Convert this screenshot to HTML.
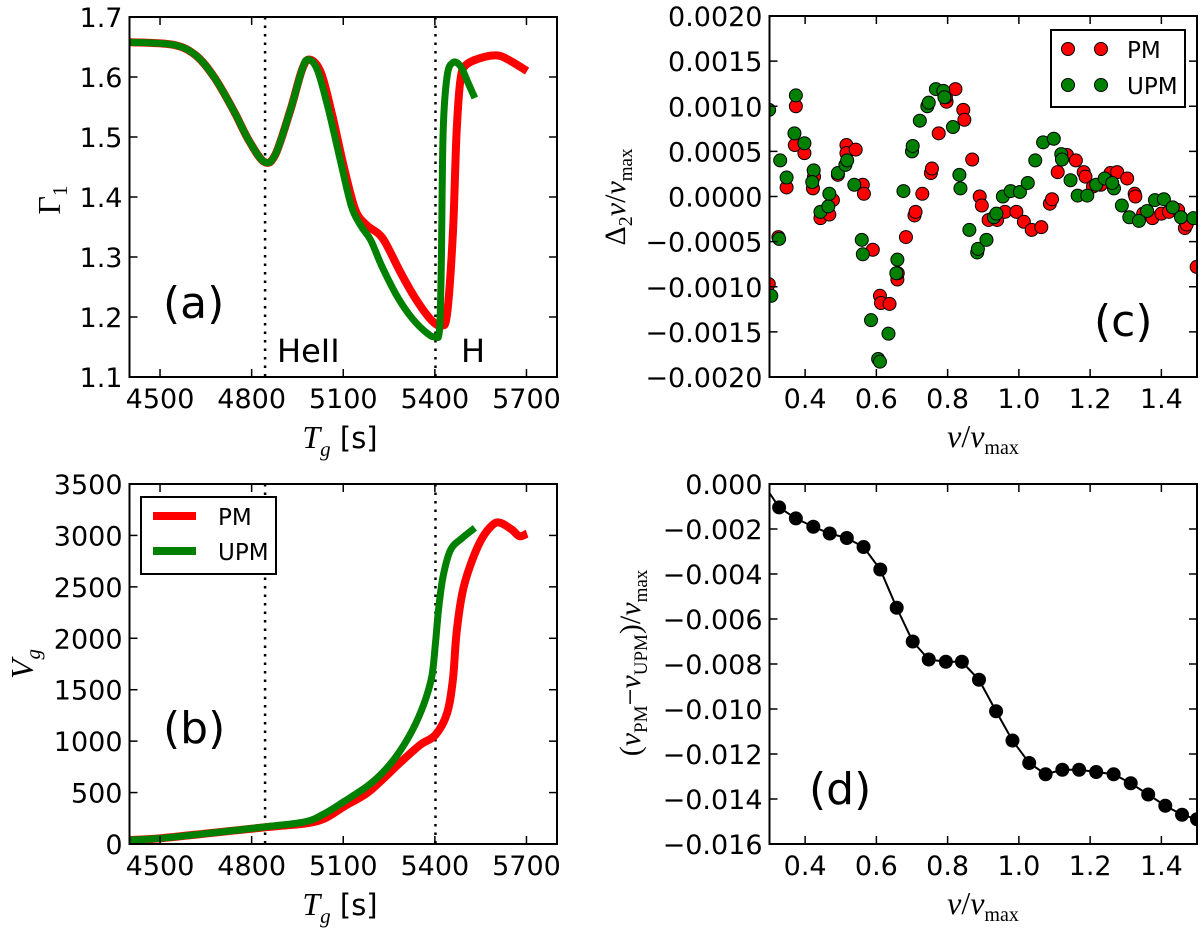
<!DOCTYPE html>
<html><head><meta charset="utf-8">
<style>
html,body{margin:0;padding:0;background:#fff;}
svg{display:block;}
text{font-family:"DejaVu Sans","Liberation Sans",sans-serif;}
.serif{font-family:"Liberation Serif","DejaVu Serif",serif;}
</style></head>
<body>
<svg id="fig" xmlns="http://www.w3.org/2000/svg" width="1200" height="930" viewBox="0 0 1200 930">
<rect x="0" y="0" width="1200" height="930" fill="#fff"/>
</svg>
<script>
// ---------- DATA ----------
// Panel (a): Gamma_1 vs T_g
const aPmT   = [4402,4540,4615,4677,4740,4790,4840,4877,4927,4965,4990,5027,5065,5102,5140,5177,5215,5240,5290,5340,5390,5421,5440,5459,5471,5484,5502,5552,5602,5640,5702];
const aPmG   = [1.658,1.654,1.637,1.600,1.545,1.495,1.459,1.470,1.545,1.612,1.629,1.607,1.534,1.450,1.378,1.353,1.339,1.322,1.272,1.228,1.194,1.186,1.205,1.339,1.506,1.596,1.620,1.632,1.636,1.629,1.610];
const aUpmT  = [4402,4540,4615,4677,4740,4790,4840,4877,4927,4965,4984,5015,5052,5090,5127,5159,5190,5227,5277,5327,5377,5402,5415,5421,5427,5440,5459,5484,5509,5531];
const aUpmG  = [1.658,1.654,1.637,1.600,1.545,1.495,1.459,1.470,1.545,1.612,1.629,1.612,1.545,1.462,1.384,1.351,1.328,1.284,1.234,1.197,1.172,1.167,1.178,1.284,1.506,1.601,1.624,1.618,1.590,1.565];
// Panel (b): V_g vs T_g
const bPmT   = [4402,4500,4677,4852,4977,5040,5102,5177,5227,5290,5352,5402,5440,5459,5471,5490,5515,5552,5590,5615,5652,5677,5702];
const bPmV   = [39,55,110,165,200,250,363,493,623,801,964,1061,1272,1597,2051,2440,2700,2959,3105,3122,3057,2992,3018];
const bUpmT  = [4402,4500,4677,4852,4977,5040,5102,5177,5227,5277,5327,5365,5390,5402,5412,5427,5452,5490,5531];
const bUpmV  = [39,55,110,169,217,298,412,558,688,866,1110,1369,1629,1953,2278,2602,2862,2976,3073];
const vLines = [4844,5402];
const tgTicks = [4500,4800,5100,5400,5700];
const g1Ticks = [1.1,1.2,1.3,1.4,1.5,1.6,1.7];
const vgTicks = [0,500,1000,1500,2000,2500,3000,3500];
// Panel (c): second differences
const cPmX = [0.298,0.325,0.348,0.374,0.371,0.398,0.422,0.425,0.443,0.468,0.478,0.492,0.516,0.516,0.542,0.562,0.565,0.590,0.610,0.613,0.637,0.659,0.660,0.683,0.707,0.710,0.729,0.753,0.756,0.775,0.797,0.795,0.822,0.844,0.847,0.869,0.890,0.896,0.915,0.939,0.961,0.993,1.014,1.036,1.063,1.087,1.093,1.109,1.135,1.160,1.182,1.187,1.208,1.230,1.257,1.276,1.304,1.325,1.327,1.349,1.375,1.400,1.421,1.447,1.466,1.471,1.499];
const cPmY = [-0.00097,-0.00045,0.0001,0.0010,0.00057,0.00048,0.00009,0.00022,-0.00024,-0.0002,-0.00004,0.00024,0.00057,0.00048,0.00052,0.00013,0.00003,-0.00059,-0.0011,-0.00118,-0.00119,-0.00092,-0.00085,-0.00045,-0.00021,-0.00017,0.00003,0.00026,0.00031,0.0007,0.00105,0.0011,0.00119,0.00096,0.00085,0.00041,0.0,-0.0001,-0.00026,-0.00026,-0.00017,-0.00017,-0.00028,-0.00037,-0.00034,-0.00008,-0.00003,0.00027,0.00046,0.0004,0.00027,0.00022,0.00011,0.00013,0.00026,0.00027,0.0002,0.00003,0.0,-0.00019,-0.00024,-0.00019,-0.00017,-0.00015,-0.00035,-0.00031,-0.00078];
const cUpmX = [0.299,0.305,0.327,0.330,0.348,0.374,0.370,0.398,0.424,0.420,0.443,0.465,0.468,0.492,0.513,0.518,0.538,0.559,0.562,0.585,0.605,0.610,0.634,0.656,0.659,0.676,0.700,0.702,0.722,0.743,0.747,0.767,0.788,0.791,0.815,0.833,0.836,0.861,0.883,0.885,0.909,0.930,0.937,0.955,0.977,1.003,1.025,1.046,1.068,1.098,1.119,1.121,1.145,1.165,1.192,1.217,1.241,1.267,1.262,1.289,1.310,1.337,1.360,1.382,1.407,1.432,1.455,1.490];
const cUpmY = [0.00096,-0.0011,-0.00047,0.0004,0.00021,0.00112,0.0007,0.00059,0.00029,0.00016,-0.00017,-0.00011,0.00003,0.00026,0.00035,0.0004,0.00013,-0.00048,-0.00064,-0.00137,-0.0018,-0.00183,-0.00152,-0.00085,-0.0007,0.00006,0.0005,0.00056,0.00084,0.0010,0.00104,0.00119,0.00117,0.0011,0.00077,0.00024,0.00009,-0.00037,-0.00062,-0.00058,-0.00048,-0.00023,-0.00019,0.0,0.00006,0.00005,0.00015,0.0004,0.0006,0.00064,0.00047,0.00041,0.00018,0.00001,0.00001,0.00013,0.0002,0.00009,0.00015,-0.0001,-0.00023,-0.00027,-0.00016,-0.00004,-0.00003,-0.00012,-0.00023,-0.00024];
const cXTicks = [0.4,0.6,0.8,1.0,1.2,1.4];
const cYTicks = [-0.002,-0.0015,-0.001,-0.0005,0,0.0005,0.001,0.0015,0.002];
// Panel (d): frequency difference
const dX = [0.300,0.327,0.374,0.423,0.469,0.517,0.564,0.611,0.657,0.702,0.747,0.795,0.840,0.888,0.936,0.982,1.029,1.075,1.122,1.169,1.217,1.266,1.314,1.363,1.411,1.458,1.500];
const dY = [-0.0004,-0.00104,-0.00153,-0.0019,-0.0022,-0.0024,-0.0028,-0.0038,-0.0055,-0.0070,-0.0078,-0.0079,-0.0079,-0.0087,-0.0101,-0.0114,-0.0124,-0.0129,-0.0127,-0.0127,-0.0128,-0.0129,-0.0133,-0.0138,-0.0143,-0.0147,-0.0149];
const dYTicks = [-0.016,-0.014,-0.012,-0.010,-0.008,-0.006,-0.004,-0.002,0.0];

// ---------- DRAW ----------
const NS = "http://www.w3.org/2000/svg";
const svg = document.getElementById('fig');
function el(tag, parent){ const e=document.createElementNS(NS,tag); parent.appendChild(e); return e; }
function fmt(v,d){ const s=Math.abs(v).toFixed(d); return (v<-1e-12?'\u2212':'')+s; }
function scale(d0,d1,r0,r1){ return v => r0+(v-d0)/(d1-d0)*(r1-r0); }
function smoothPath(pts){
  let d='M'+pts[0][0].toFixed(2)+','+pts[0][1].toFixed(2);
  for(let i=0;i<pts.length-1;i++){
    const p0=pts[i-1]||pts[i], p1=pts[i], p2=pts[i+1], p3=pts[i+2]||p2;
    const c1=[p1[0]+(p2[0]-p0[0])/6, p1[1]+(p2[1]-p0[1])/6];
    const c2=[p2[0]-(p3[0]-p1[0])/6, p2[1]-(p3[1]-p1[1])/6];
    d+=' C'+c1[0].toFixed(2)+','+c1[1].toFixed(2)+' '+c2[0].toFixed(2)+','+c2[1].toFixed(2)+' '+p2[0].toFixed(2)+','+p2[1].toFixed(2);
  }
  return d;
}

function panel(id, box, xd, yd, xticks, yticks, xdec, ydec){
  const g = el('g', svg);
  
  
  const sx = scale(xd[0],xd[1],box.x0,box.x1), sy = scale(yd[0],yd[1],box.y1,box.y0);
  const cp = el('clipPath', g); cp.setAttribute('id','clip-'+id);
  const cr = el('rect', cp);
  cr.setAttribute('x',box.x0); cr.setAttribute('y',box.y0);
  cr.setAttribute('width',box.x1-box.x0); cr.setAttribute('height',box.y1-box.y0);
  const plot = el('g', g); plot.setAttribute('clip-path','url(#clip-'+id+')');
  
  
  // ticks
  xticks.forEach(t=>{
    const x=sx(t);
    [[box.y1,box.y1-8],[box.y0,box.y0+8]].forEach(p=>{
      const l=el('line',g); l.setAttribute('x1',x); l.setAttribute('x2',x); l.setAttribute('y1',p[0]); l.setAttribute('y2',p[1]);
      l.setAttribute('stroke','#000'); l.setAttribute('stroke-width','1.5');
      
      
    });
    const tx=el('text',g); tx.setAttribute('x',x); tx.setAttribute('y',box.y1+31);
    tx.setAttribute('text-anchor','middle'); tx.setAttribute('font-size','27');
    tx.textContent = xdec===null? String(t) : fmt(t,xdec);
    
    
  });
  yticks.forEach(t=>{
    const y=sy(t);
    [[box.x0,box.x0+8],[box.x1,box.x1-8]].forEach(p=>{
      const l=el('line',g); l.setAttribute('y1',y); l.setAttribute('y2',y); l.setAttribute('x1',p[0]); l.setAttribute('x2',p[1]);
      l.setAttribute('stroke','#000'); l.setAttribute('stroke-width','1.5');
      
      
    });
    const tx=el('text',g); tx.setAttribute('x',box.x0-7); tx.setAttribute('y',y+10);
    tx.setAttribute('text-anchor','end'); tx.setAttribute('font-size','27');
    tx.textContent = ydec===null? String(t) : fmt(t,ydec);
    
    
  });
  return {g, plot, sx, sy, box};
}
function frame(P){
  const r=el('rect',P.g); r.setAttribute('x',P.box.x0); r.setAttribute('y',P.box.y0);
  r.setAttribute('width',P.box.x1-P.box.x0); r.setAttribute('height',P.box.y1-P.box.y0);
  r.setAttribute('fill','none'); r.setAttribute('stroke','#000'); r.setAttribute('stroke-width','2');
  
  
}
function curve(P, xs, ys, color, w, name){
  const pts = xs.map((x,i)=>[P.sx(x),P.sy(ys[i])]);
  const p=el('path',P.plot); p.setAttribute('d',smoothPath(pts));
  p.setAttribute('fill','none'); p.setAttribute('stroke',color); p.setAttribute('stroke-width',w);
  p.setAttribute('stroke-linejoin','round'); p.setAttribute('stroke-linecap','butt');
  
  
}
function vline(P, x){
  const l=el('line',P.plot); l.setAttribute('x1',P.sx(x)); l.setAttribute('x2',P.sx(x));
  l.setAttribute('y1',P.box.y0); l.setAttribute('y2',P.box.y1);
  l.setAttribute('stroke','#000'); l.setAttribute('stroke-width','2.5'); l.setAttribute('stroke-dasharray','2.5,6');
  
  
}
function dots(P, xs, ys, color, r, name){
  xs.forEach((x,i)=>{
    const c=el('circle',P.plot); c.setAttribute('cx',P.sx(x)); c.setAttribute('cy',P.sy(ys[i]));
    c.setAttribute('r',r); c.setAttribute('fill',color); c.setAttribute('stroke','#000'); c.setAttribute('stroke-width','1');
    
    
  });
}
function label(parent, x, y, txt, size, name, extra){
  const t=el('text',parent); t.setAttribute('x',x); t.setAttribute('y',y); t.setAttribute('font-size',size);
  if(extra) t.setAttribute('text-anchor',extra);
  t.textContent=txt;
  
  
  return t;
}

const RED='#ff0000', GREEN='#008000';

// Panel A
const A = panel('a', {x0:129.5,x1:557,y0:17,y1:377}, [4400,5800],[1.1,1.7], tgTicks, g1Ticks, null, 1);
vlines = vLines.forEach(v=>vline(A,v));
curve(A, aPmT, aPmG, RED, 8, 'pm-gamma1-curve');
curve(A, aUpmT, aUpmG, GREEN, 7, 'upm-gamma1-curve');
frame(A);
label(A.g, 163, 318, '(a)', 44, 'panel-label-a');
label(A.g, 277, 362, 'HeII', 32, 'heii-label');
label(A.g, 461, 362, 'H', 32, 'h-label');

// Panel B
const B = panel('b', {x0:129.5,x1:557,y0:484,y1:844}, [4400,5800],[0,3500], tgTicks, vgTicks, null, null);
vLines.forEach(v=>vline(B,v));
curve(B, bPmT, bPmV, RED, 8, 'pm-vg-curve');
curve(B, bUpmT, bUpmV, GREEN, 7, 'upm-vg-curve');
frame(B);
label(B.g, 163, 743, '(b)', 44, 'panel-label-b');

// Panel C
const C = panel('c', {x0:769.5,x1:1197,y0:16,y1:377}, [0.3,1.5],[-0.002,0.002], cXTicks, cYTicks, 1, 4);
dots(C, cPmX, cPmY, RED, 6.5, 'pm-point');
dots(C, cUpmX, cUpmY, GREEN, 6.5, 'upm-point');
frame(C);
label(C.g, 1094, 336, '(c)', 44, 'panel-label-c');

// Panel D
const D = panel('d', {x0:769.5,x1:1197,y0:484,y1:844}, [0.3,1.5],[-0.016,0], cXTicks, dYTicks, 1, 3);
(function(){
  const pts = dX.map((x,i)=>D.sx(x).toFixed(2)+','+D.sy(dY[i]).toFixed(2)).join(' ');
  const pl=el('polyline',D.plot); pl.setAttribute('points',pts); pl.setAttribute('fill','none');
  pl.setAttribute('stroke','#000'); pl.setAttribute('stroke-width','2');
  
  
})();
dots(D, dX.slice(1), dY.slice(1), '#000', 6.5, 'difference-point');
frame(D);
label(D.g, 809, 804, '(d)', 44, 'panel-label-d');

// Legend B
(function(){
  const g=el('g',svg);
  
  
  const r=el('rect',g); r.setAttribute('x',141); r.setAttribute('y',497); r.setAttribute('width',135); r.setAttribute('height',77);
  r.setAttribute('fill','#fff'); r.setAttribute('stroke','#000'); r.setAttribute('stroke-width','2');
  [[516,RED,'PM'],[551,GREEN,'UPM']].forEach(e=>{
    const l=el('line',g); l.setAttribute('x1',153); l.setAttribute('x2',196); l.setAttribute('y1',e[0]); l.setAttribute('y2',e[0]);
    l.setAttribute('stroke',e[1]); l.setAttribute('stroke-width','8');
    
    
    label(g, 218, e[0]+9, e[2], 23, 'legend-entry');
  });
})();
// Legend C
(function(){
  const g=el('g',svg);
  
  
  const r=el('rect',g); r.setAttribute('x',1051); r.setAttribute('y',30); r.setAttribute('width',134); r.setAttribute('height',77);
  r.setAttribute('fill','#fff'); r.setAttribute('stroke','#000'); r.setAttribute('stroke-width','2');
  [[49,RED,'PM'],[85,GREEN,'UPM']].forEach(e=>{
    [1068,1101].forEach(cx=>{
      const c=el('circle',g); c.setAttribute('cx',cx); c.setAttribute('cy',e[0]); c.setAttribute('r',6.5);
      c.setAttribute('fill',e[1]); c.setAttribute('stroke','#000'); c.setAttribute('stroke-width','1');
      
      
    });
    label(g, 1127, e[0]+9, e[2], 23, 'legend-entry');
  });
})();
</script>

<!-- axis titles -->
<svg width="0" height="0" style="position:absolute"></svg>
<script>
(function(){
  const NS="http://www.w3.org/2000/svg", svg=document.getElementById('fig');
  function add(html){ const g=document.createElementNS(NS,'g'); g.innerHTML=html; svg.appendChild(g); return g; }
  add('<text x="340" y="448" text-anchor="middle" font-size="29"><tspan class="serif" font-style="italic" font-size="32">T</tspan><tspan class="serif" font-style="italic" font-size="21" dy="8">g</tspan><tspan dy="-8"> [s]</tspan></text>');
  add('<text x="340" y="915" text-anchor="middle" font-size="29"><tspan class="serif" font-style="italic" font-size="32">T</tspan><tspan class="serif" font-style="italic" font-size="21" dy="8">g</tspan><tspan dy="-8"> [s]</tspan></text>');
  add('<text class="serif" transform="translate(60,200) rotate(-90)" text-anchor="middle" font-size="32">Γ<tspan font-size="21" dy="7">1</tspan></text>');
  add('<text class="serif" transform="translate(33,664) rotate(-90)" text-anchor="middle" font-size="32" font-style="italic">V<tspan font-size="21" dy="7">g</tspan></text>');
  add('<text class="serif" x="983" y="447" text-anchor="middle" font-size="32"><tspan font-style="italic">ν</tspan>/<tspan font-style="italic">ν</tspan><tspan font-size="20" dy="7">max</tspan></text>');
  add('<text class="serif" x="983" y="914" text-anchor="middle" font-size="32"><tspan font-style="italic">ν</tspan>/<tspan font-style="italic">ν</tspan><tspan font-size="20" dy="7">max</tspan></text>');
  add('<text class="serif" transform="translate(625,197) rotate(-90)" text-anchor="middle" font-size="30">Δ<tspan font-size="20" dy="7">2</tspan><tspan font-style="italic" dy="-7">ν</tspan>/<tspan font-style="italic">ν</tspan><tspan font-size="19" dy="7">max</tspan></text>');
  add('<text class="serif" transform="translate(640,663) rotate(-90)" text-anchor="middle" font-size="30">(<tspan font-style="italic">ν</tspan><tspan font-size="19" dy="7">PM</tspan><tspan dy="-7">−</tspan><tspan font-style="italic">ν</tspan><tspan font-size="19" dy="7">UPM</tspan><tspan dy="-7">)/</tspan><tspan font-style="italic">ν</tspan><tspan font-size="19" dy="7">max</tspan></text>');
})();
</script>
</body></html>
